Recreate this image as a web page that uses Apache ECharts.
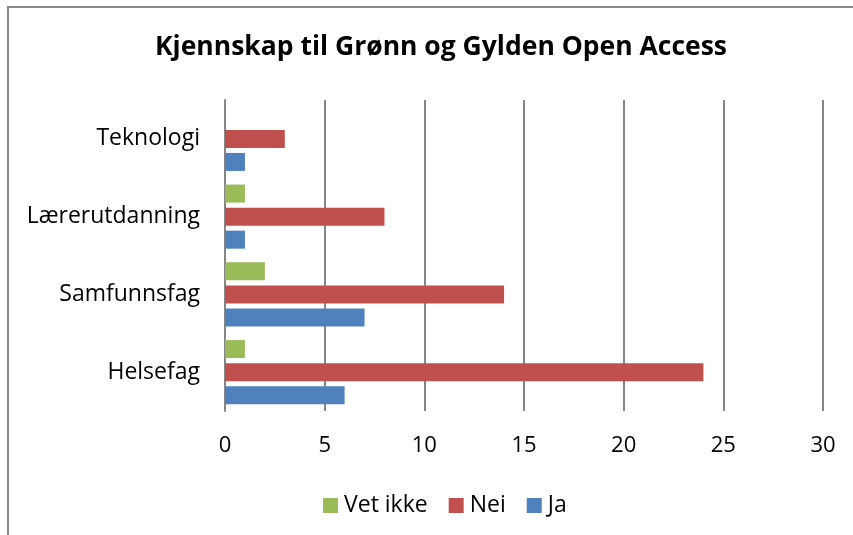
<!DOCTYPE html>
<html>
<head>
<meta charset="utf-8">
<script src="https://cdn.jsdelivr.net/npm/echarts@6/dist/echarts.min.js"></script>
<style>
  html, body { margin: 0; padding: 0; background: #fff; }
  #chart { width: 853px; height: 535px; }
</style>
</head>
<body>
<div id="chart"></div>
<script>
// kategorier (nedenfra og opp)
const categories = ['Helsefag', 'Samfunnsfag', 'Lærerutdanning', 'Teknologi'];
const jaValues = [6, 7, 1, 1];
const neiValues = [24, 14, 8, 3];
const vetIkkeValues = [1, 2, 1, 0];
const xTicks = [0, 5, 10, 15, 20, 25, 30];

const font = '"Open Sans", sans-serif';

const myChart = echarts.init(document.getElementById('chart'), null, { renderer: 'canvas' });

const option = {
  backgroundColor: '#fff',
  animation: false,
  // ramme rundt diagrammet
  graphic: [{
    type: 'rect',
    shape: { x: 8, y: 7, width: 900, height: 600 },
    style: { fill: 'none', stroke: '#888', lineWidth: 2 },
    silent: true
  }],
  title: {
    text: 'Kjennskap til Grønn og Gylden Open Access',
    left: 150,
    top: 29,
    textStyle: { fontFamily: font, fontWeight: 'bold', fontSize: 26.5, color: '#000' }
  },
  legend: {
    data: ['Vet ikke', 'Nei', 'Ja'],
    top: 489,
    left: 318,
    itemWidth: 15,
    itemHeight: 15,
    itemGap: 21,
    icon: 'rect',
    textStyle: { fontFamily: font, fontSize: 23, color: '#000', padding: [0, 0, 0, 1] }
  },
  grid: { left: 225, right: 30, top: 100, bottom: 124, containLabel: false },
  xAxis: {
    type: 'value',
    min: xTicks[0],
    max: xTicks[xTicks.length - 1],
    interval: 5,
    axisLine: { show: false },
    axisTick: { show: false },
    axisLabel: { fontFamily: font, fontSize: 22, color: '#000', margin: 24 },
    splitLine: { show: true, lineStyle: { color: '#868686', width: 2 } }
  },
  yAxis: {
    type: 'category',
    data: categories,
    axisLine: { show: true, lineStyle: { color: '#868686', width: 2 } },
    axisTick: { show: false },
    axisLabel: { fontFamily: font, fontSize: 23, color: '#000', margin: 25 }
  },
  // første serie havner øverst i hver gruppe
  series: [
    {
      name: 'Vet ikke', type: 'bar', data: vetIkkeValues, barWidth: 18, barGap: '28%',
      itemStyle: { color: '#9bbb59' }
    },
    {
      name: 'Nei', type: 'bar', data: neiValues, barWidth: 18, barGap: '28%',
      itemStyle: { color: '#c0504d' }
    },
    {
      name: 'Ja', type: 'bar', data: jaValues, barWidth: 18, barGap: '28%',
      itemStyle: { color: '#4f81bd' }
    }
  ]
};

myChart.setOption(option);
</script>
</body>
</html>
